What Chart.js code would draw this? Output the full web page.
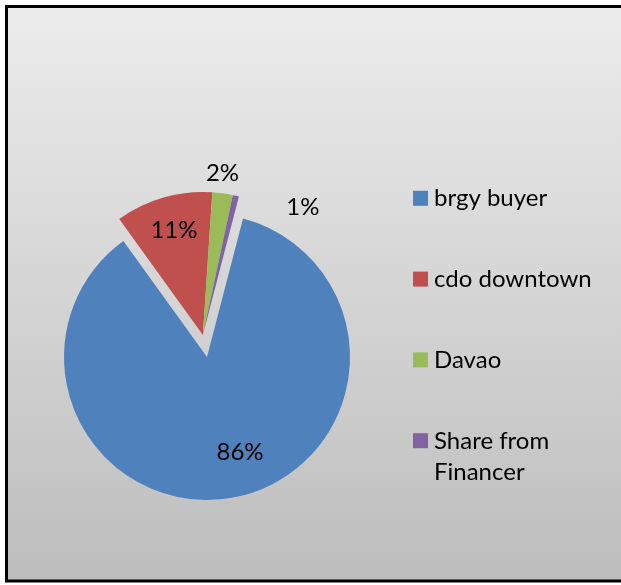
<!DOCTYPE html>
<html>
<head>
<meta charset="utf-8">
<script src="https://cdn.jsdelivr.net/npm/chart.js@4.4.0/dist/chart.umd.min.js"></script>
<style>
  html, body { margin: 0; padding: 0; background: #ffffff; }
</style>
</head>
<body>
<canvas id="myPie" width="621" height="585"></canvas>
<script>
// data (percent of total)
const categories = ['brgy buyer', 'cdo downtown', 'Davao', 'Share from Financer']
const shares = [86, 11, 2.3, 0.7]
const sliceColors = ['#4F81BD', '#C0504D', '#9BBB59', '#8064A2']

// styling / placement
// slices flagged 1 are pulled out together, along the middle of their group
const explodeGroup = [0, 1, 1, 1]
const explodeDist = 22.4
// [fraction of radius, angle nudge in degrees] for each % label
const labelPlace = [[0.697, -8.75], [0.762, 0.6], [1.141, -1.05], [1.139, 24.5]]
const FONT = '24px Lato'

const framePlugin = {
  id: 'frame',
  beforeDraw: (chart) => {
    const {ctx} = chart
    ctx.save()
    const g = ctx.createLinearGradient(0, 7, 0, 580)
    g.addColorStop(0, '#ececec')
    g.addColorStop(1, '#bdbdbd')
    ctx.fillStyle = g
    ctx.fillRect(7, 7, chart.width, 573)
    ctx.strokeStyle = '#000000'
    ctx.lineWidth = 3
    ctx.beginPath()
    ctx.moveTo(chart.width + 2, 6.5)
    ctx.lineTo(6.5, 6.5)
    ctx.lineTo(6.5, 581)
    ctx.lineTo(chart.width + 2, 581)
    ctx.stroke()
    ctx.restore()
  }
}

// pull the grouped slices out from the centre together
const explodePlugin = {
  id: 'explode',
  afterDatasetsUpdate: (chart) => {
    const arcs = chart.getDatasetMeta(0).data
    const grouped = arcs.filter((a, i) => explodeGroup[i])
    if (!grouped.length) return
    const start = Math.min(...grouped.map(a => a.startAngle))
    const end = Math.max(...grouped.map(a => a.endAngle))
    const mid = (start + end) / 2
    grouped.forEach(arc => {
      arc.x += Math.cos(mid) * explodeDist
      arc.y += Math.sin(mid) * explodeDist
    })
  }
}

const labelPlugin = {
  id: 'sliceLabels',
  afterDatasetsDraw: (chart) => {
    const {ctx} = chart
    const values = chart.data.datasets[0].data
    const total = values.reduce((a, b) => a + b, 0)
    ctx.save()
    ctx.font = FONT
    ctx.fillStyle = '#000000'
    ctx.textAlign = 'center'
    ctx.textBaseline = 'alphabetic'
    chart.getDatasetMeta(0).data.forEach((arc, i) => {
      const f = labelPlace[i][0]
      const ang = (arc.startAngle + arc.endAngle) / 2 + labelPlace[i][1] * Math.PI / 180
      const r = arc.outerRadius * f
      const x = arc.x + Math.cos(ang) * r
      const y = arc.y + Math.sin(ang) * r
      ctx.fillText(Math.round(values[i] / total * 100) + '%', x, y + 8.5)
    })
    ctx.restore()
  }
}

function wrapText(ctx, text, maxWidth) {
  const words = text.split(' ')
  const lines = []
  let line = ''
  words.forEach(w => {
    const test = line ? line + ' ' + w : w
    if (line && ctx.measureText(test).width > maxWidth) {
      lines.push(line)
      line = w
    } else {
      line = test
    }
  })
  lines.push(line)
  return lines
}

const legendPlugin = {
  id: 'sideLegend',
  afterDraw: (chart) => {
    const {ctx} = chart
    const colors = chart.data.datasets[0].backgroundColor
    ctx.save()
    ctx.font = FONT
    ctx.textBaseline = 'alphabetic'
    chart.data.labels.forEach((label, i) => {
      const cy = 198.3 + i * 80.8
      ctx.fillStyle = colors[i]
      ctx.fillRect(413, cy - 7.5, 15, 15)
      ctx.fillStyle = '#000000'
      wrapText(ctx, label, 180).forEach((line, j) => {
        ctx.fillText(line, 434, cy + 8 + j * 31)
      })
    })
    ctx.restore()
  }
}

new Chart(
  'myPie',
  {
    type: 'pie',
    data: {
      labels: categories,
      datasets: [{
        data: shares,
        backgroundColor: sliceColors,
        borderWidth: 0
      }]
    },
    options: {
      responsive: false,
      animation: false,
      rotation: 14.6,
      radius: 143,
      layout: {
        padding: {left: 64, right: 271, top: 214, bottom: 85}
      },
      plugins: {
        legend: {display: false},
        tooltip: {enabled: false}
      }
    },
    plugins: [framePlugin, explodePlugin, labelPlugin, legendPlugin]
  }
)
</script>
</body>
</html>
